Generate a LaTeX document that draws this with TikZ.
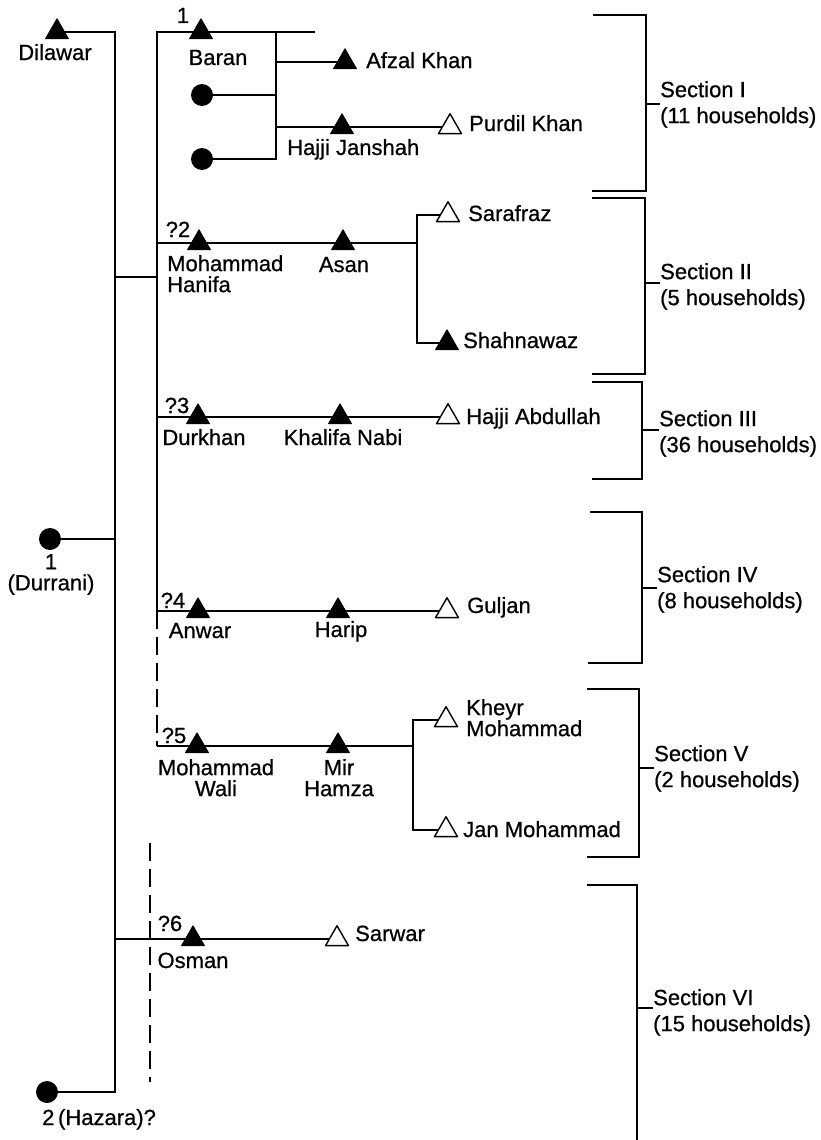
\documentclass[tikz,border=0pt]{standalone}
\usepackage{fontspec}
\setmainfont{Liberation Sans}
\newfontfamily\lblfont{Liberation Sans}[FakeBold=0.7]
\usetikzlibrary{shapes.geometric,backgrounds}
\begin{document}
\begin{tikzpicture}[x=1pt,y=-1pt,
  ln/.style={line width=1.6pt},
  dsh/.style={line width=1.6pt, dash pattern=on 18pt off 8pt},
  ftri/.style={regular polygon, regular polygon sides=3, minimum size=26.5pt, inner sep=0pt, outer sep=0pt, fill=black, draw=black, line width=0.8pt, line join=round},
  otri/.style={regular polygon, regular polygon sides=3, minimum size=26.5pt, inner sep=0pt, outer sep=0pt, fill=white, draw=black, line width=1.4pt, line join=round},
  fcirc/.style={circle, minimum size=22pt, inner sep=0pt, outer sep=0pt, fill=black},
  lbl/.style={font=\lblfont\fontsize{22}{21}\selectfont, inner sep=0pt},
  sec/.style={font=\lblfont\fontsize{22}{26}\selectfont, inner sep=0pt, align=left, anchor=north west},
]
\useasboundingbox (0,0) rectangle (821,1140);

% ---- symbols ----
\node[ftri] (dil) at (57,32) {};
\node[fcirc] (dur) at (50,539) {};
\node[fcirc] (haz) at (47,1092) {};

\node[ftri] (baran) at (201,32) {};
\node[ftri] (afzal) at (345,62) {};
\node[fcirc] (w1) at (202,95) {};
\node[fcirc] (w2) at (202,159) {};
\node[ftri] (jansh) at (342,127) {};
\node[otri] (purdil) at (450,127) {};

\node[ftri] (hanifa) at (199,243) {};
\node[ftri] (asan) at (343,243) {};
\node[otri] (saraf) at (448,215) {};
\node[ftri] (shahn) at (447,343) {};

\node[ftri] (durkh) at (198,417) {};
\node[ftri] (khal) at (340,417) {};
\node[otri] (habd) at (448,417) {};

\node[ftri] (anwar) at (198,611) {};
\node[ftri] (harip) at (338,611) {};
\node[otri] (guljan) at (447,611) {};

\node[ftri] (wali) at (197,746) {};
\node[ftri] (mirh) at (338,746) {};
\node[otri] (kheyr) at (446,720) {};
\node[otri] (janm) at (446,830) {};

\node[ftri] (osman) at (193,939) {};
\node[otri] (sarwar) at (337,939) {};

% ---- coordinates ----
\coordinate (m1) at (115,32);
\coordinate (m2) at (115,1092);
\coordinate (m3) at (115,539);
\coordinate (m4) at (115,277);
\coordinate (m5) at (115,939);
\coordinate (s1) at (157,32);
\coordinate (s2) at (157,277);
\coordinate (s3) at (157,243);
\coordinate (s4) at (157,417);
\coordinate (s5) at (157,611);
\coordinate (s6) at (157,746);
\coordinate (topend) at (315,32);
\coordinate (v1a) at (276,32);
\coordinate (v1b) at (276,62);
\coordinate (v1c) at (276,95);
\coordinate (v1d) at (276,127);
\coordinate (v1e) at (276,159);
\coordinate (v2a) at (417,215);
\coordinate (v2b) at (417,243);
\coordinate (v2c) at (417,343);
\coordinate (v3a) at (413,720);
\coordinate (v3b) at (413,746);
\coordinate (v3c) at (413,830);
\coordinate (d1) at (150,843);
\coordinate (d2) at (150,1082);

% ---- labels ----
\node[lbl, anchor=base] (tdil) at (55,60) {Dilawar};
\node[lbl, anchor=base] (n1) at (183,23) {1};
\node[lbl, anchor=base] (tbaran) at (218,65) {Baran};
\node[lbl, anchor=base west] (tafzal) at (366,68) {Afzal Khan};
\node[lbl, anchor=base west] (tjansh) at (287,155) {Hajji Janshah};
\node[lbl, anchor=base west] (tpurdil) at (469,131) {Purdil Khan};
\node[lbl, anchor=base] (n2) at (178,237) {?2};
\node[lbl, anchor=north west, align=left] (thanifa) at (167,255) {Mohammad\\Hanifa};
\node[lbl, anchor=base] (tasan) at (344,272) {Asan};
\node[lbl, anchor=base west] (tsaraf) at (468,221) {Sarafraz};
\node[lbl, anchor=base west] (tshahn) at (463,348) {Shahnawaz};
\node[lbl, anchor=base] (n3) at (177,413) {?3};
\node[lbl, anchor=base] (tdurkh) at (204,445) {Durkhan};
\node[lbl, anchor=base] (tkhal) at (343,445) {Khalifa Nabi};
\node[lbl, anchor=base west] (thabd) at (466,424) {Hajji Abdullah};
\node[lbl, anchor=base] (n4) at (173,608) {?4};
\node[lbl, anchor=base] (tanwar) at (200,638) {Anwar};
\node[lbl, anchor=base] (tharip) at (341,637) {Harip};
\node[lbl, anchor=base west] (tguljan) at (467,613) {Guljan};
\node[lbl, anchor=base] (n5) at (174,743) {?5};
\node[lbl, anchor=north, align=center] (twali) at (216,759) {Mohammad\\Wali};
\node[lbl, anchor=north, align=center] (tmirh) at (339,759) {Mir\\Hamza};
\node[lbl, anchor=north west, align=left] (tkheyr) at (466,699) {Kheyr\\Mohammad};
\node[lbl, anchor=base west] (tjanm) at (463,837) {Jan Mohammad};
\node[lbl, anchor=base] (n6) at (170,931) {?6};
\node[lbl, anchor=base] (tosman) at (193,968) {Osman};
\node[lbl, anchor=base west] (tsarwar) at (355,941) {Sarwar};
\node[lbl, anchor=north, align=center] (tdur) at (51,554) {1\\(Durrani)};
\node[lbl, anchor=base west] (thaz) at (42,1125) {2\,(Hazara)?};

% ---- sections ----
\node[sec] (sec1) at (660,81) {Section I\\(11 households)};
\node[sec] (sec2) at (660,263) {Section II\\(5 households)};
\node[sec] (sec3) at (659,410) {Section III\\(36 households)};
\node[sec] (sec4) at (657,566) {Section IV\\(8 households)};
\node[sec] (sec5) at (654,745) {Section V\\(2 households)};
\node[sec] (sec6) at (653,989) {Section VI\\(15 households)};

\begin{pgfonlayer}{background}
% main line
\draw[ln] (dil.center) -- (m1) -- (m2) -- (haz.center);
\draw[ln] (dur.center) -- (m3);
\draw[ln] (m4) -- (s2);
\draw[ln] (m5) -- (osman.center) -- (sarwar);
\draw[dsh] (d1) -- (d2);
% second vertical
\draw[ln] (topend) -- (s1) -- (s5);
\draw[dsh] (s5) -- (s6);
% Baran group
\draw[ln] (v1a) -- (v1e) -- (w2.center);
\draw[ln] (v1b) -- (afzal.center);
\draw[ln] (v1c) -- (w1.center);
\draw[ln] (v1d) -- (jansh.center) -- (purdil);
% Hanifa
\draw[ln] (s3) -- (hanifa.center) -- (asan.center) -- (v2b);
\draw[ln] (saraf) -- (v2a) -- (v2c) -- (shahn.center);
% Durkhan
\draw[ln] (s4) -- (durkh.center) -- (khal.center) -- (habd);
% Anwar
\draw[ln] (s5) -- (anwar.center) -- (harip.center) -- (guljan);
% Wali
\draw[ln] (s6) -- (wali.center) -- (mirh.center) -- (v3b);
\draw[ln] (kheyr) -- (v3a) -- (v3c) -- (janm);
% brackets
\draw[ln] (593,15) -- (646,15) -- (646,191) -- (592,191);
\draw[ln] (646,104) -- (sec1.west |- 0,104);
\draw[ln] (592,198) -- (645,198) -- (645,374) -- (592,374);
\draw[ln] (645,283) -- (sec2.west |- 0,283);
\draw[ln] (592,382) -- (642,382) -- (642,479) -- (592,479);
\draw[ln] (642,430) -- (sec3.west |- 0,430);
\draw[ln] (590,512) -- (642,512) -- (642,663) -- (588,663);
\draw[ln] (642,588) -- (sec4.west |- 0,588);
\draw[ln] (587,689) -- (639,689) -- (639,857) -- (587,857);
\draw[ln] (639,768) -- (sec5.west |- 0,768);
\draw[ln] (587,885) -- (637,885) -- (637,1140);
\draw[ln] (637,1008) -- (sec6.west |- 0,1008);
\end{pgfonlayer}
\end{tikzpicture}
\end{document}
